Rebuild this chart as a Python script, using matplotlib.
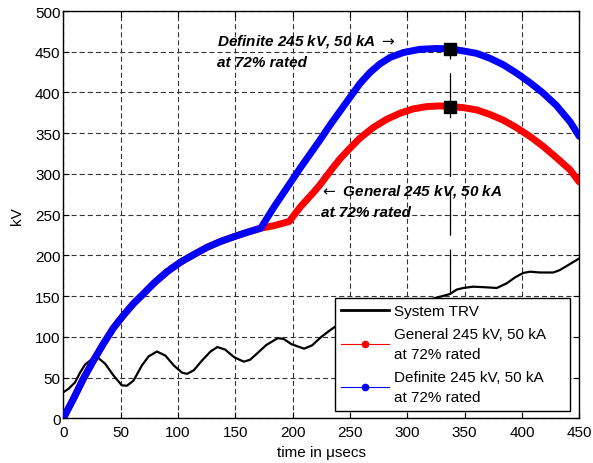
import matplotlib.pyplot as plt
from matplotlib.lines import Line2D

plt.rcParams['font.family'] = ['Liberation Sans', 'DejaVu Sans']

# system TRV (black)
t_sys = [0, 4.4, 10.2, 14.6, 19, 24.8, 30.6, 36.5, 43.8, 51, 55.5, 61.3, 68.6, 74.4, 81.7, 89,
         96.3, 103.6, 108, 113.8, 121, 128.4, 134.3, 141, 149, 157.5, 163, 169.3, 177, 187, 192,
         199, 210, 217, 225, 233, 237, 250, 270, 300, 320, 337.2, 343, 348.8, 357.5, 369.2, 378,
         386.6, 393.9, 401, 407, 415.6, 427.3, 433, 441.8, 450]
v_sys = [32, 36, 44, 56, 66, 72.5, 74, 67, 52.6, 40.5, 40, 46.4, 65, 76, 82, 77,
         65, 56, 54.6, 59, 71, 82, 87.5, 84.5, 75, 69.5, 72, 80, 90, 98.4, 97.5,
         91, 85.5, 89.6, 100, 108.5, 112.5, 122, 130, 140, 146, 152.6, 158, 160, 161.6, 160.8, 160,
         165.7, 173, 178.4, 180, 179, 179, 182, 189.4, 196.4]

# general 245 kV, 50 kA at 72% rated (red)
t_gen = [0, 8.8, 17.5, 26.3, 35, 43.8, 52.5, 61.3, 70, 78.8, 90.5, 102, 113.8, 125.5, 137, 148.9,
         160.5, 172.2, 184, 197, 207, 219, 224, 232.6, 241.3, 250, 258.7, 270.3, 281.9, 293.6, 305,
         316.9, 328.5, 337.2, 348.8, 360.5, 372, 383.7, 395, 407, 418.6, 430, 441.9, 450]
v_gen = [0, 23.8, 48.5, 71, 91.6, 111, 126.5, 141, 153, 165.6, 180, 191.5, 201, 210, 217, 223,
         228.4, 233.4, 236.6, 241.6, 260, 278.6, 287, 303, 318.6, 331.6, 344, 357, 367, 374.5, 379.8,
         382.7, 383.5, 382.7, 381.4, 378.6, 373, 366, 357, 346, 333.7, 320, 305, 290]

# definite 245 kV, 50 kA at 72% rated (blue)
t_def = [0, 8.8, 17.5, 26.3, 35, 43.8, 52.5, 61.3, 70, 78.8, 90.5, 102, 113.8, 125.5, 137, 148.9,
         160.5, 172.2, 184, 196, 207, 215, 224, 232.6, 241.3, 250, 258.7, 267.4, 276, 284.9, 296.5,
         311, 325.6, 337.2, 348.8, 360.5, 372, 383.7, 395, 407, 418.6, 430, 441.9, 450]
v_def = [0, 23.8, 48.5, 71, 91.6, 111, 126.5, 141, 153, 165.6, 180, 191.5, 201, 210, 217, 223,
         228.4, 233.4, 260, 285, 308, 324, 342, 360, 377, 394, 411, 424.5, 435, 443, 449,
         453, 454, 453.5, 451, 448, 442, 434, 424, 412, 399, 384, 364, 346]

# peak points
t_peak = 337.2
v_peak_gen = 382.7
v_peak_def = 453.5
v_peak_base = 152.6

fig = plt.figure(figsize=(5.93, 4.64), dpi=100)
ax = fig.add_axes([0.1067, 0.0963, 0.8703, 0.8778])

ax.plot([t_peak, t_peak], [v_peak_base, v_peak_def], color='k', lw=0.9,
        linestyle=(0, (36, 11)), zorder=2)
ax.plot(t_sys, v_sys, color='k', lw=1.6, zorder=3)
ax.plot(t_gen, v_gen, color='#ff0000', lw=5, solid_capstyle='round',
        solid_joinstyle='round', zorder=4)
ax.plot(t_def, v_def, color='#0000ff', lw=5, solid_capstyle='round',
        solid_joinstyle='round', zorder=5)
ax.plot([t_peak, t_peak], [v_peak_gen, v_peak_def], 's', color='k', ms=9, zorder=6)

kw = dict(fontsize=11, fontweight='bold', fontstyle='italic', ha='left', va='center')
ax.text(134, 464, 'Definite 245 kV, 50 kA $\\rightarrow$', **kw)
ax.text(134, 437, 'at 72% rated', **kw)
ax.text(224, 280, '$\\leftarrow$ General 245 kV, 50 kA', **kw)
ax.text(225, 253, 'at 72% rated', **kw)

ax.set_xlim(0, 450)
ax.set_ylim(0, 500)
ax.set_xticks(range(0, 451, 50))
ax.set_yticks(range(0, 501, 50))
ax.grid(True, color='0.2', linestyle=(0, (4.5, 2.8)), lw=0.8)
ax.tick_params(direction='in', length=4, top=True, right=True, labelsize=11)
ax.tick_params(axis='x', pad=5)
ax.tick_params(axis='y', pad=2)
for s in ax.spines.values():
    s.set_linewidth(1)
ax.set_xlabel('time in \u03bcsecs', fontsize=11, labelpad=4)
ax.set_ylabel('kV', fontsize=11, labelpad=8)

handles = [Line2D([], [], color='k', lw=2),
           Line2D([], [], color='#ff0000', lw=0.8, marker='o', ms=4.5),
           Line2D([], [], color='#0000ff', lw=0.8, marker='o', ms=4.5)]
labels = ['System TRV', 'General 245 kV, 50 kA\nat 72% rated',
          'Definite 245 kV, 50 kA     \nat 72% rated']
leg = ax.legend(handles, labels, loc='lower right', bbox_to_anchor=(0.982, 0.019),
                borderaxespad=0, fontsize=11, fancybox=False, edgecolor='k', framealpha=1,
                handlelength=3.1, handletextpad=0.35, borderpad=0.4, labelspacing=0.55)
leg.get_frame().set_linewidth(1)
for txt in leg.get_texts():
    txt.set_linespacing(1.6)

fig.savefig('out.png', dpi=100)
